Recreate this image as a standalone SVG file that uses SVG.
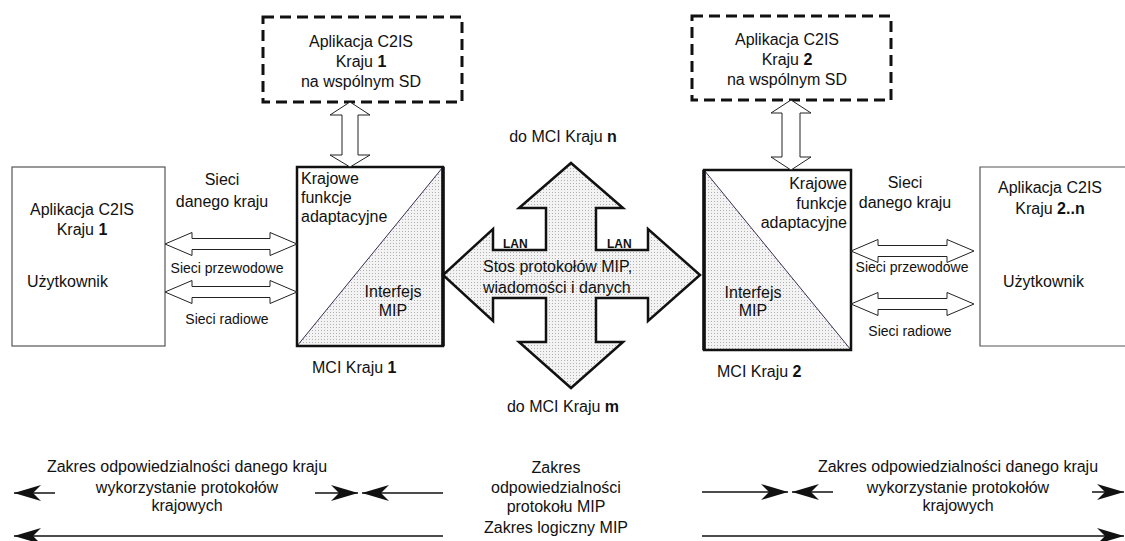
<svg xmlns="http://www.w3.org/2000/svg" width="1125" height="541" viewBox="0 0 1125 541">
<defs>
<pattern id="dots" width="3" height="3" patternUnits="userSpaceOnUse">
<rect width="3" height="3" fill="#f3f3f3"/>
<rect width="1" height="1" fill="#b0b0b0"/>
</pattern>
<marker id="barb" viewBox="-28 -10 30 20" refX="0" refY="0" markerWidth="30" markerHeight="20" markerUnits="userSpaceOnUse" orient="auto">
<path d="M0,0 L-27,-8 L-19,0 L-27,8 Z" fill="#111"/>
</marker>
</defs>
<style>
text{font-family:"Liberation Sans",Arial,sans-serif;fill:#111;font-size:16px}
.sm{font-size:14px}
.lan{font-size:12px;font-weight:bold}
.c{text-anchor:middle}
.r{text-anchor:end}
.b{font-weight:bold}
.dash{fill:#fff;stroke:#111;stroke-width:3;stroke-dasharray:11 6}
.hollow{fill:#fff;stroke:#222;stroke-width:1}
.plain{fill:#fff;stroke:#555;stroke-width:1.2}
.mci{fill:none;stroke:#111;stroke-width:2.5}
.diag{stroke:#3a2a50;stroke-width:1}
.rng{stroke:#111;stroke-width:1.5;fill:none;marker-end:url(#barb)}
</style>

<g id="app1-sd">
<rect class="dash" x="263" y="17" width="199" height="85"/>
<text class="c" x="361" y="47">Aplikacja C2IS</text>
<text class="c" x="361" y="67">Kraju <tspan class="b">1</tspan></text>
<text class="c" x="361" y="87">na wspólnym SD</text>
</g>

<g id="app2-sd">
<rect class="dash" x="692" y="16" width="199" height="84"/>
<text class="c" x="787" y="45">Aplikacja C2IS</text>
<text class="c" x="787" y="65">Kraju <tspan class="b">2</tspan></text>
<text class="c" x="787" y="85">na wspólnym SD</text>
</g>

<g id="app1-user">
<rect class="plain" x="12" y="167" width="153" height="179"/>
<text class="c" x="82" y="215">Aplikacja C2IS</text>
<text class="c" x="82" y="235">Kraju  <tspan class="b">1</tspan></text>
<text x="27" y="287">Użytkownik</text>
</g>

<g id="app2-user">
<path class="plain" d="M1126,167 H980 V346 H1126"/>
<text class="c" x="1050" y="193">Aplikacja C2IS</text>
<text class="c" x="1050" y="214">Kraju  <tspan class="b">2..n</tspan></text>
<text x="1003" y="287">Użytkownik</text>
</g>

<g id="mci1">
<rect x="297" y="167" width="146" height="179" fill="#fff"/>
<polygon points="297,346 443,167 443,346" fill="url(#dots)"/>
<line class="diag" x1="297" y1="346" x2="443" y2="167"/>
<rect class="mci" x="297" y="167" width="146" height="179"/>
<line x1="443" y1="167" x2="443" y2="346" stroke="#111" stroke-width="3.5"/>
<text x="301" y="184">Krajowe</text>
<text x="301" y="203">funkcje</text>
<text x="301" y="222">adaptacyjne</text>
<text class="c" x="393" y="297">Interfejs</text>
<text class="c" x="393" y="316">MIP</text>
<text x="312" y="373">MCI Kraju <tspan class="b">1</tspan></text>
</g>

<g id="mci2">
<rect x="704" y="170" width="147" height="180" fill="#fff"/>
<polygon points="704,170 851,350 704,350" fill="url(#dots)"/>
<line class="diag" x1="704" y1="170" x2="851" y2="350"/>
<rect class="mci" x="704" y="170" width="147" height="180"/>
<line x1="704" y1="170" x2="704" y2="350" stroke="#111" stroke-width="3.5"/>
<text class="r" x="847" y="189">Krajowe</text>
<text class="r" x="847" y="209">funkcje</text>
<text class="r" x="847" y="228">adaptacyjne</text>
<text class="c" x="753" y="298">Interfejs</text>
<text class="c" x="753" y="316">MIP</text>
<text x="717" y="377">MCI Kraju <tspan class="b">2</tspan></text>
</g>

<g id="mip-stack">
<polygon points="571,163 623,208 596,208 596,250 648,250 648,229 700,275 648,321 648,298 596,298 596,342 623,342 571,388 519,342 546,342 546,298 493,298 493,321 443,275 493,229 493,250 546,250 546,208 519,208" fill="url(#dots)" stroke="#111" stroke-width="2.5" stroke-linejoin="miter"/>
<text class="lan" x="503" y="248">LAN</text>
<text class="lan" x="607" y="248">LAN</text>
<text x="483" y="272">Stos protokołów MIP,</text>
<text x="483" y="293">wiadomości i danych</text>
<text class="c" x="563" y="142">do MCI Kraju <tspan class="b">n</tspan></text>
<text class="c" x="563" y="412">do MCI Kraju <tspan class="b">m</tspan></text>
</g>

<g id="labels-left-net">
<text class="c" x="222" y="185">Sieci</text>
<text class="c" x="222" y="207">danego kraju</text>
<text class="c sm" x="227" y="273">Sieci przewodowe</text>
<text class="c sm" x="227" y="324">Sieci radiowe</text>
</g>

<g id="labels-right-net">
<text class="c" x="905" y="188">Sieci</text>
<text class="c" x="905" y="208">danego kraju</text>
<text class="c sm" x="912" y="272">Sieci przewodowe</text>
<text class="c sm" x="910" y="336">Sieci radiowe</text>
</g>

<g id="scope-left">
<text class="c" x="187" y="472">Zakres odpowiedzialności danego kraju</text>
<text class="c" x="187" y="493">wykorzystanie protokołów</text>
<text class="c" x="187" y="511">krajowych</text>
</g>

<g id="scope-mid">
<text class="c" x="556" y="473">Zakres</text>
<text class="c" x="556" y="493">odpowiedzialności</text>
<text class="c" x="556" y="512">protokołu MIP</text>
<text class="c" x="556" y="533">Zakres logiczny MIP</text>
</g>

<g id="scope-right">
<text class="c" x="958" y="472">Zakres odpowiedzialności danego kraju</text>
<text class="c" x="958" y="493">wykorzystanie protokołów</text>
<text class="c" x="958" y="511">krajowych</text>
</g>

<g id="connectors">
<polygon class="hollow" points="350,102 370,115 358,115 358,155 370,155 350,167 330,155 342,155 342,115 330,115"/>
<polygon class="hollow" points="791,100 811,113 800,113 800,157 811,157 791,170 771,157 782,157 782,113 771,113"/>
<polygon class="hollow" points="165,244 192,232.5 192,238.5 270,238.5 270,232.5 297,244 270,255.5 270,249.5 192,249.5 192,255.5"/>
<polygon class="hollow" points="165,292 192,280.5 192,286.5 270,286.5 270,280.5 297,292 270,303.5 270,297.5 192,297.5 192,303.5"/>
<polygon class="hollow" points="851,251 878,239.5 878,245.5 947,245.5 947,239.5 974,251 947,262.5 947,256.5 878,256.5 878,262.5"/>
<polygon class="hollow" points="851,304 878,292.5 878,298.5 947,298.5 947,292.5 974,304 947,315.5 947,309.5 878,309.5 878,315.5"/>
<line class="rng" x1="55" y1="493" x2="14" y2="493"/>
<line class="rng" x1="315" y1="493" x2="358" y2="493"/>
<line class="rng" x1="443" y1="493" x2="362" y2="493"/>
<line class="rng" x1="443" y1="536" x2="14" y2="536"/>
<line class="rng" x1="702" y1="492" x2="788" y2="492"/>
<line class="rng" x1="833" y1="492" x2="792" y2="492"/>
<line class="rng" x1="1092" y1="492" x2="1124" y2="492"/>
<line class="rng" x1="702" y1="536" x2="1124" y2="536"/>
</g>
</svg>
